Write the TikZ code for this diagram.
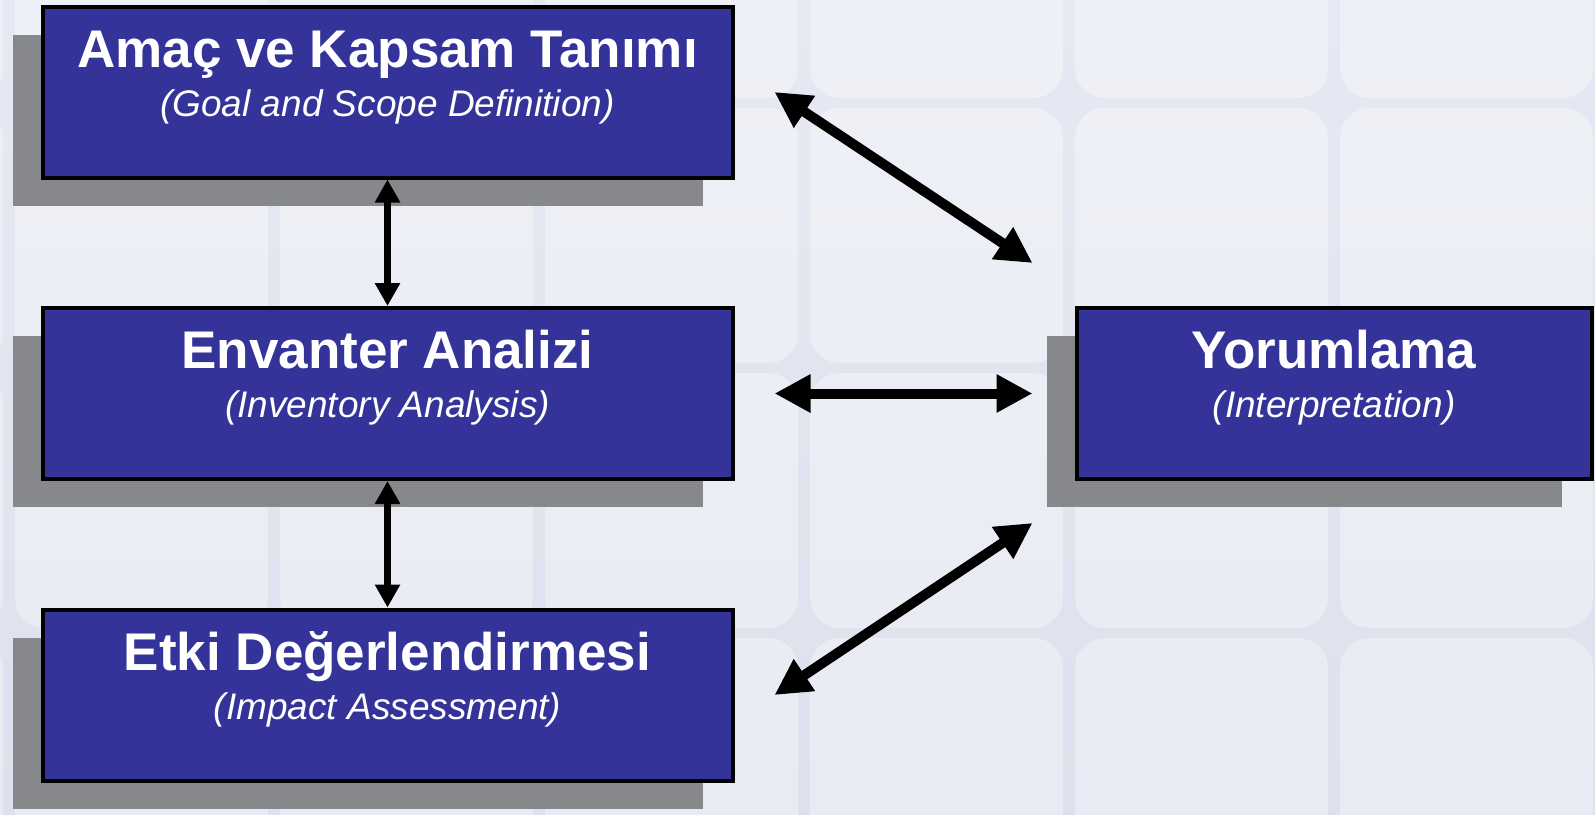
\documentclass[tikz,border=0pt]{standalone}
\usepackage{fontspec}
\setmainfont{Liberation Sans}
\usetikzlibrary{arrows.meta,positioning,shadows}
\definecolor{boxblue}{RGB}{51,51,153}
\definecolor{shadowgray}{RGB}{135,136,140}
\definecolor{bgtop}{RGB}{230,233,243}
\definecolor{bgbot}{RGB}{221,225,237}
\newcommand\stagetitle{\fontsize{53}{50}\selectfont\bfseries\upshape}

\begin{document}
\begin{tikzpicture}
[x=1pt,y=-1pt,
stage/.style ={rectangle, draw=black, line width=4pt, fill=boxblue,
text=white, align=center, inner sep=0pt,
minimum width=690pt, minimum height=171pt,
text height=80pt, text depth=32pt,
font=\fontsize{37}{49}\selectfont\itshape,
drop shadow={shadow xshift=-30pt, shadow yshift=-28pt,
fill=shadowgray, opacity=1}},
tile/.style ={fill=white, fill opacity=0.35, rounded corners=30pt},
line/.style ={draw, line width=10pt,
{Triangle[length=36pt,width=36pt]}-{Triangle[length=36pt,width=36pt]}},
vline/.style ={draw, line width=7pt,
{Triangle[length=23pt,width=24pt]}-{Triangle[length=23pt,width=24pt]}}]
% background with tiles
\useasboundingbox (0,0) rectangle (1595,814);
\fill[top color=bgtop, bottom color=bgbot] (0,0) rectangle (1595,814);
\begin{scope}
\clip (0,0) rectangle (1595,814);
\foreach \cx in {-256,9,274,539,804,1069,1334}
  \foreach \cy in {-162,103,368,633}
    \fill[tile] (\cx+6,\cy+5) rectangle +(253,255);
\end{scope}
% the four stages
\node [stage] (amac) at (387.5,92)
  {{\stagetitle Amaç ve Kapsam Tanımı}\\(Goal and Scope Definition)};
\node [stage, below=126.5pt of amac] (envanter)
  {{\stagetitle Envanter Analizi}\\(Inventory Analysis)};
\node [stage, below=126.5pt of envanter] (etki)
  {{\stagetitle Etki Değerlendirmesi}\\(Impact Assessment)};
\node [stage, minimum width=515pt, right=340pt of envanter] (yorum)
  {{\stagetitle Yorumlama}\\(Interpretation)};
% free ends of the long arrows
\coordinate (amac-r) at ([xshift=40pt]amac.east);
\coordinate (envanter-r) at ([xshift=40pt]envanter.east);
\coordinate (etki-r) at ([xshift=40pt]etki.east);
\coordinate (yorum-tl) at ([xshift=-42pt,yshift=43pt]yorum.north west);
\coordinate (yorum-l) at ([xshift=-42pt]yorum.west);
\coordinate (yorum-bl) at ([xshift=-42pt,yshift=-42pt]yorum.south west);
\path [vline] (amac) -- (envanter);
\path [vline] (envanter) -- (etki);
\path [line] (amac-r) -- (yorum-tl);
\path [line] (envanter-r) -- (yorum-l);
\path [line] (yorum-bl) -- (etki-r);
\end{tikzpicture}
\end{document}
